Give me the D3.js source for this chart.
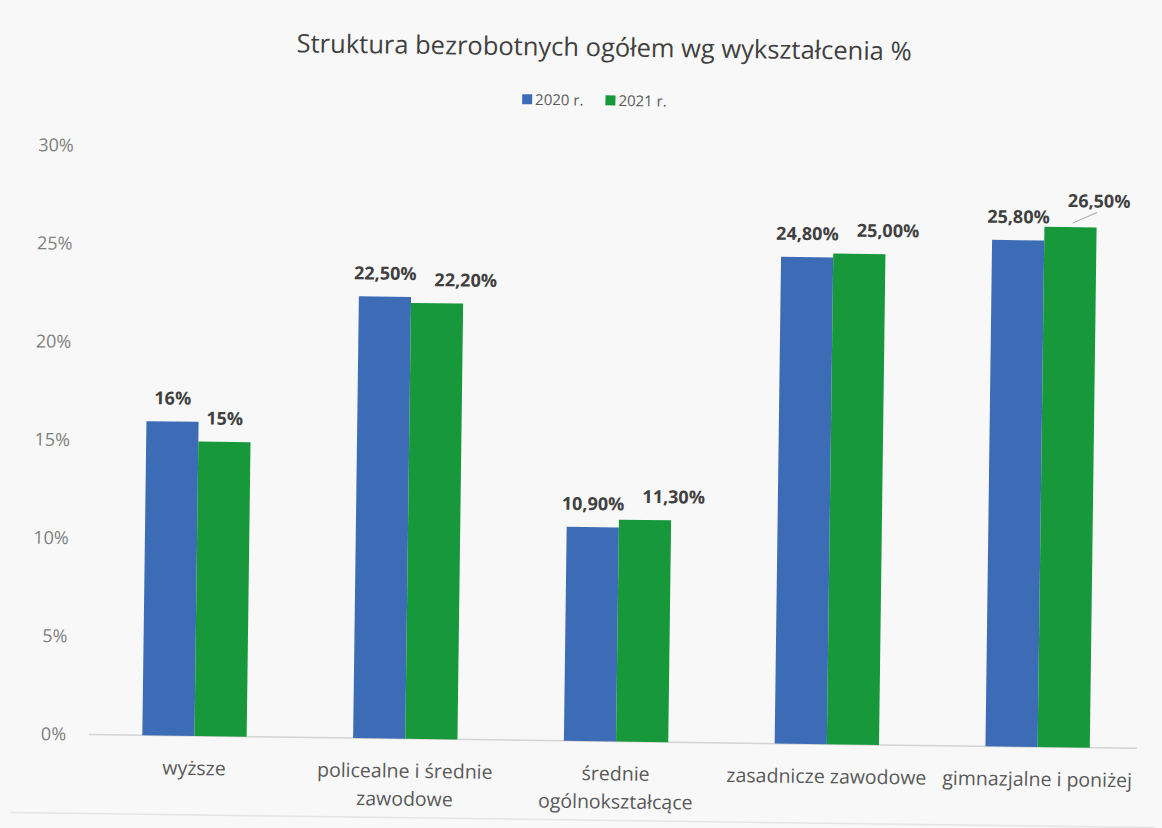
<!DOCTYPE html>
<html>
<head>
<meta charset="utf-8">
<script src="https://cdn.jsdelivr.net/npm/d3@7"></script>
<style>
  html, body { margin: 0; padding: 0; background: #f8f8f8; }
  svg { display: block; font-family: "Open Sans", sans-serif; }
</style>
</head>
<body>
<svg width="1162" height="828"></svg>
<script>
// values
var categories = ["wyższe", "policealne i średnie zawodowe", "średnie ogólnokształcące", "zasadnicze zawodowe", "gimnazjalne i poniżej"];
var seriesNames = ["2020 r.", "2021 r."];
var values2020 = [16, 22.5, 10.9, 24.8, 25.8];
var values2021 = [15, 22.2, 11.3, 25.0, 26.5];
var valueLabels2020 = ["16%", "22,50%", "10,90%", "24,80%", "25,80%"];
var valueLabels2021 = ["15%", "22,20%", "11,30%", "25,00%", "26,50%"];
var yTicks = [0, 5, 10, 15, 20, 25, 30];
var title = "Struktura bezrobotnych ogółem wg wykształcenia %";

var colors = ["#3d6cb6", "#17983b"];

var svg = d3.select("svg"),
    width = +svg.attr("width"),
    height = +svg.attr("height");

// the scan is a bit crooked, so the whole chart sits turned ~0.75deg
var g = svg.append("g").attr("transform", "rotate(0.75,580,440)");

var x0 = d3.scaleBand()
    .domain(categories)
    .range([93, 1147])
    .paddingInner(0.505)
    .paddingOuter(0.2525);

var x1 = d3.scaleBand()
    .domain(seriesNames)
    .range([0, x0.bandwidth()]);

var y = d3.scaleLinear()
    .domain([0, 30])
    .range([741, 152]);

// faint edge of the chart area at the bottom
g.append("line")
    .attr("x1", 15).attr("x2", 1160)
    .attr("y1", 820).attr("y2", 820)
    .attr("stroke", "#e4e4e4").attr("stroke-width", 1.5);

// title
g.append("text")
    .attr("x", 599)
    .attr("y", 56)
    .attr("text-anchor", "middle")
    .attr("font-size", 25.5)
    .attr("fill", "#404040")
    .text(title);

// legend
var legend = g.append("g");
var lx = 0;
seriesNames.forEach(function(s, i) {
  var item = legend.append("g").attr("transform", "translate(" + lx + ",0)");
  item.append("rect").attr("x", 0).attr("y", -5).attr("width", 10).attr("height", 10).attr("fill", colors[i]);
  var t = item.append("text").attr("x", 13).attr("y", 5.5).attr("font-size", 15).attr("fill", "#595959").text(s);
  lx += 13 + t.node().getComputedTextLength() + 22;
});
lx -= 22;
legend.attr("transform", "translate(" + (590 - lx / 2) + ",100)");

// y axis labels (no gridlines in the original)
var yAxis = d3.axisLeft(y)
    .tickValues(yTicks)
    .tickSize(0)
    .tickPadding(0)
    .tickFormat(function(d) { return d + "%"; });

g.append("g")
    .attr("transform", "translate(70,0)")
    .call(yAxis)
    .call(function(a) { a.select(".domain").remove(); })
    .selectAll("text")
    .attr("font-family", "Open Sans, sans-serif")
    .attr("font-size", 18)
    .attr("fill", "#7f7f7f");

// baseline
g.append("line")
    .attr("x1", x0.range()[0])
    .attr("x2", x0.range()[1] - 6)
    .attr("y1", y(0))
    .attr("y2", y(0))
    .attr("stroke", "#d4d4d4")
    .attr("stroke-width", 1.5);

// bars
var rows = categories.map(function(c, i) {
  return [
    {cat: c, s: seriesNames[0], v: values2020[i], lab: valueLabels2020[i], k: 0},
    {cat: c, s: seriesNames[1], v: values2021[i], lab: valueLabels2021[i], k: 1}
  ];
});

var groups = g.append("g").selectAll("g")
  .data(rows)
  .enter().append("g")
    .attr("transform", function(d) { return "translate(" + x0(d[0].cat) + ",0)"; });

groups.selectAll("rect")
  .data(function(d) { return d; })
  .enter().append("rect")
    .attr("x", function(d) { return x1(d.s); })
    .attr("y", function(d) { return y(d.v); })
    .attr("width", x1.bandwidth())
    .attr("height", function(d) { return y(0) - y(d.v); })
    .attr("fill", function(d) { return colors[d.k]; });

// data labels; the 2021 one is pushed right when it would run into 2020's
groups.each(function(d, gi) {
  var grp = d3.select(this);
  var a = d[0], b = d[1];
  var ca = x1(a.s) + x1.bandwidth() / 2,
      cb = x1(b.s) + x1.bandwidth() / 2;
  var ta = grp.append("text")
      .attr("x", ca).attr("y", y(a.v) - 17)
      .attr("text-anchor", "middle")
      .attr("font-size", 18).attr("font-weight", "bold").attr("fill", "#404040")
      .text(a.lab);
  var tb = grp.append("text")
      .attr("x", cb).attr("y", y(b.v) - 17)
      .attr("text-anchor", "middle")
      .attr("font-size", 18).attr("font-weight", "bold").attr("fill", "#404040")
      .text(b.lab);
  var wa = ta.node().getComputedTextLength(),
      wb = tb.node().getComputedTextLength();
  var rightA = ca + wa / 2,
      leftB = cb - wb / 2;
  if (leftB < rightA + 12) {
    var nb = rightA + 18 + wb / 2;
    tb.attr("x", nb);
    if (gi == categories.length - 1) {
      // leader line back to the bar, as in the original
      tb.attr("y", y(b.v) - 20);
      grp.append("line")
        .attr("x1", nb - 2).attr("y1", y(b.v) - 15)
        .attr("x2", cb + 2).attr("y2", y(b.v) - 4)
        .attr("stroke", "#a6a6a6").attr("stroke-width", 1);
    }
  }
});

// category labels, wrapped to the band width
function wrap(str, maxW, size) {
  var words = str.split(" "), lines = [], cur = "";
  var tmp = g.append("text").attr("font-size", size);
  words.forEach(function(w) {
    var test = cur ? cur + " " + w : w;
    tmp.text(test);
    if (tmp.node().getComputedTextLength() > maxW && cur) {
      lines.push(cur);
      cur = w;
    } else {
      cur = test;
    }
  });
  lines.push(cur);
  tmp.remove();
  return lines;
}

categories.forEach(function(c) {
  var lines = wrap(c, x0.step(), 19.5);
  var t = g.append("text")
      .attr("x", x0(c) + x0.bandwidth() / 2)
      .attr("y", 780)
      .attr("text-anchor", "middle")
      .attr("font-size", 19.5)
      .attr("fill", "#595959");
  lines.forEach(function(l, i) {
    t.append("tspan")
      .attr("x", x0(c) + x0.bandwidth() / 2)
      .attr("dy", i == 0 ? 0 : 28)
      .text(l);
  });
});
</script>
</body>
</html>
